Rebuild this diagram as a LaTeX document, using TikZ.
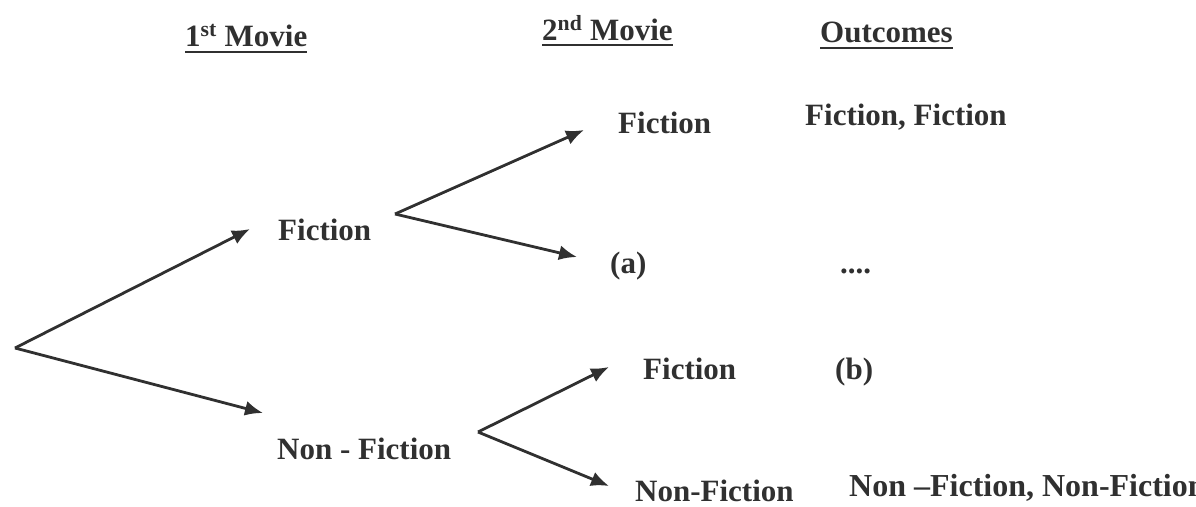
\documentclass[tikz,border=0pt]{standalone}
\usepackage{fontspec}
\setmainfont{Liberation Serif}
\usetikzlibrary{arrows.meta}
\definecolor{ink}{HTML}{303030}
\tikzset{>={Latex[length=18pt,width=15pt]}}
\tikzset{
  lbl/.style={inner sep=0pt, anchor=base west, text=ink,
    font=\fontsize{31}{36}\selectfont\bfseries},
  branch/.style={draw=ink, line width=2.8pt, ->},
  uline/.style={draw=ink, line width=2.8pt}
}

\begin{document}
\begin{tikzpicture}[x=1pt,y=-1pt]
\useasboundingbox (0,0) rectangle (1196,506);
% headings
\node[lbl] (first) at (185,46) {1\textsuperscript{st} Movie};
\node[lbl] (second) at (542,40) {2\textsuperscript{nd} Movie};
\node[lbl] (outc) at (820,42) {Outcomes};
\draw[uline] ([yshift=-6pt]first.base west) -- ([yshift=-6pt]first.base east);
\draw[uline] ([yshift=-5pt]second.base west) -- ([yshift=-5pt]second.base east);
\draw[uline] ([yshift=-6pt]outc.base west) -- ([yshift=-6pt]outc.base east);
% first movie
\node[lbl] (fic) at (278,240) {Fiction};
\node[lbl] (nonfic) at (277,459) {Non - Fiction};
% second movie
\node[lbl] (ficfic) at (618,133) {Fiction};
\node[lbl] (a) at (610,273) {(a)};
\node[lbl] (nonficfic) at (643,379) {Fiction};
\node[lbl] (nonficnon) at (635,501) {Non-Fiction};
% outcomes
\node[lbl] (oFF) at (805,125) {Fiction, Fiction};
\node[lbl] (oFN) at (840,273) {....};
\node[lbl] (b) at (835,379) {(b)};
\node[lbl, font=\fontsize{32}{36}\selectfont\bfseries] (oNN) at (849,496) {Non –Fiction, Non-Fiction};
% branch points and tips
\coordinate (root) at (15,348);
\coordinate (forkF) at (395,214);
\coordinate (forkN) at (478,432);
\coordinate (tipF) at (250,229);
\coordinate (tipN) at (263,413);
\coordinate (tipFF) at (584,130);
\coordinate (tipFN) at (577,257);
\coordinate (tipNF) at (609,367);
\coordinate (tipNN) at (609,486);
\draw[branch] (root) -- (tipF);
\draw[branch] (root) -- (tipN);
\draw[branch] (forkF) -- (tipFF);
\draw[branch] (forkF) -- (tipFN);
\draw[branch] (forkN) -- (tipNF);
\draw[branch] (forkN) -- (tipNN);
\end{tikzpicture}
\end{document}
